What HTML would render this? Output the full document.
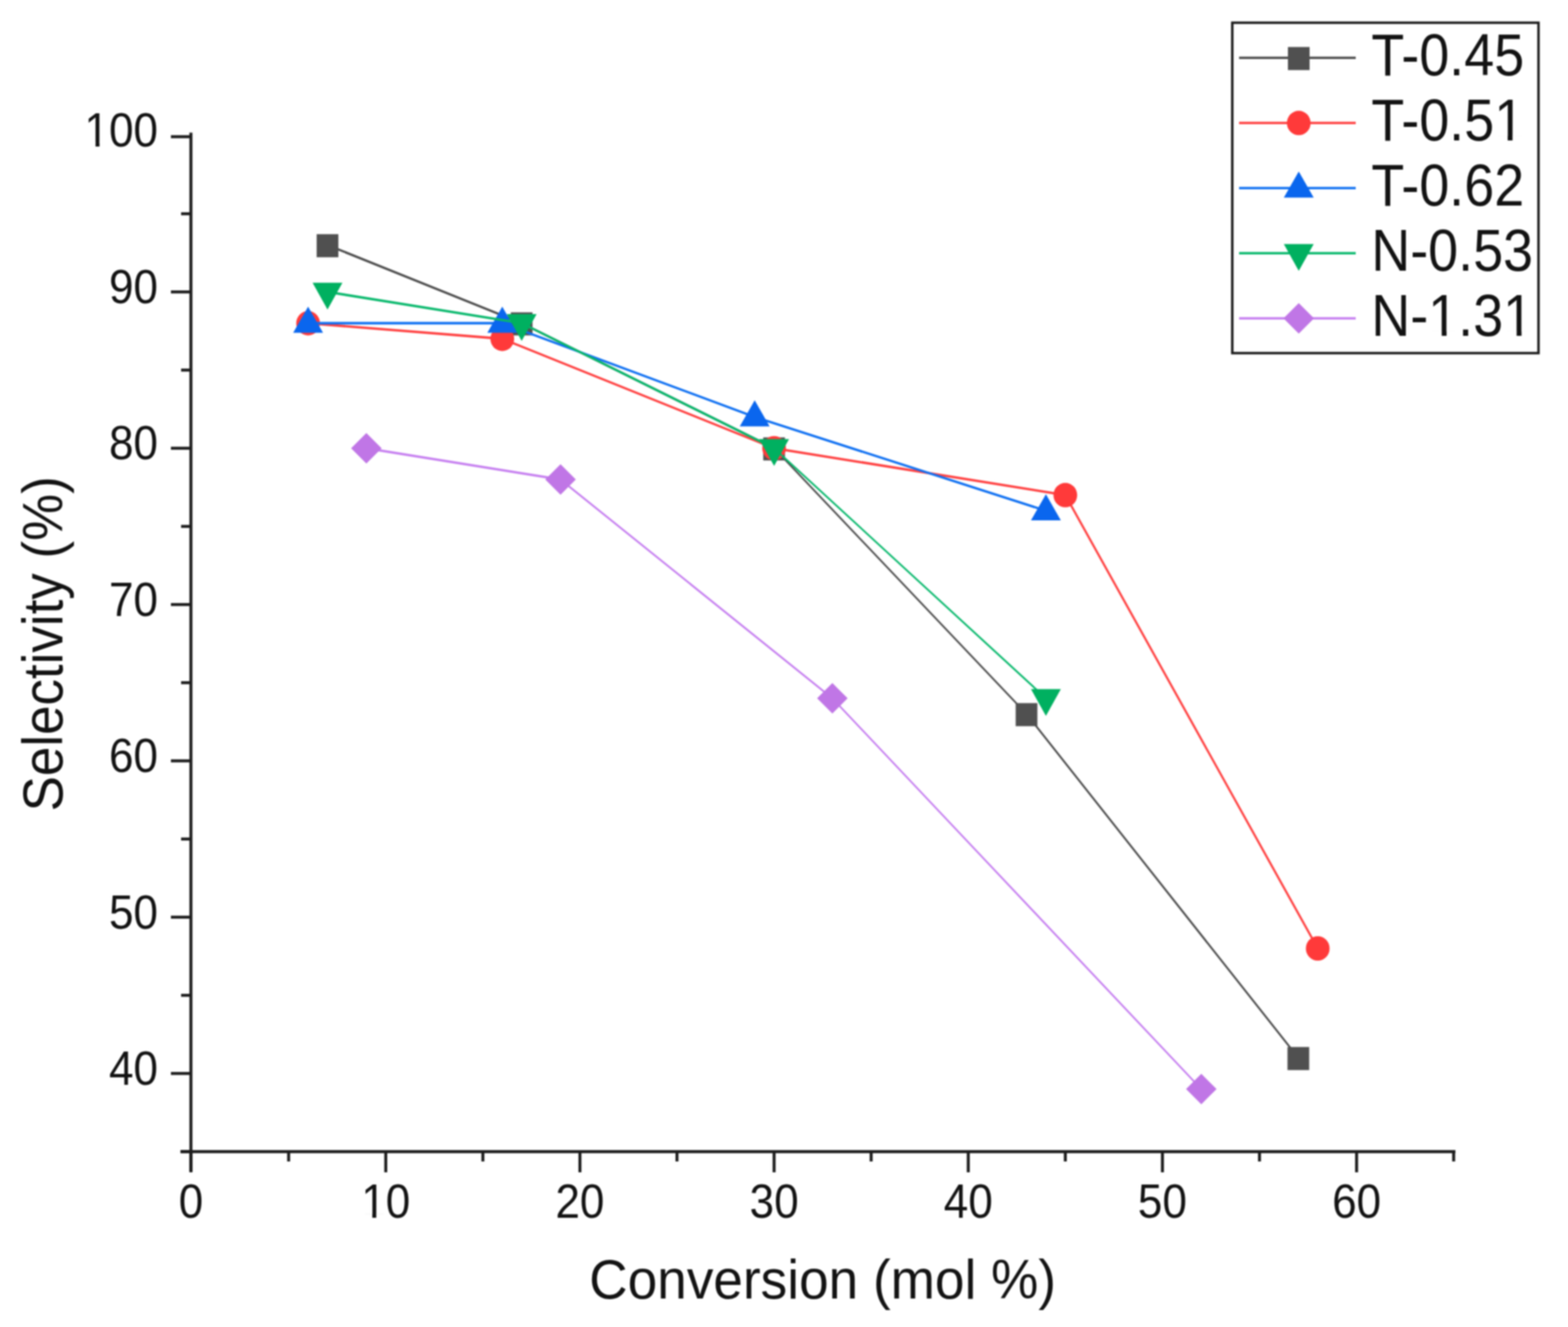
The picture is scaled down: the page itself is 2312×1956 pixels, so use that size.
<!DOCTYPE html>
<html><head><meta charset="utf-8"><title>Selectivity vs Conversion</title>
<style>html,body{margin:0;padding:0;background:#fff;}body{width:2312px;height:1956px;overflow:hidden;}svg{display:block;filter:blur(0.8px);} text{font-family:'Liberation Sans', Arial, Helvetica, sans-serif;fill:#121212;}</style>
</head><body>
<svg width="2312" height="1956" viewBox="0 0 2312 1956">
<rect width="2312" height="1956" fill="#ffffff"/>
<g stroke="#4c4c4c" stroke-linecap="round"><line x1="482.9" y1="361.2" x2="769.2" y2="476.4" stroke-width="3.34"/><line x1="769.2" y1="476.4" x2="1141.4" y2="660.7" stroke-width="3.23"/><line x1="1141.4" y1="660.7" x2="1513.6" y2="1052.4" stroke-width="2.61"/><line x1="1513.6" y1="1052.4" x2="1914.4" y2="1559.3" stroke-width="2.82"/></g>
<rect x="466.9" y="345.2" width="32" height="34" fill="#505050"/>
<rect x="753.2" y="460.4" width="32" height="34" fill="#505050"/>
<rect x="1125.4" y="644.7" width="32" height="34" fill="#505050"/>
<rect x="1497.6" y="1036.4" width="32" height="34" fill="#505050"/>
<rect x="1898.4" y="1543.3" width="32" height="34" fill="#505050"/>
<g stroke="#ff4040" stroke-linecap="round"><line x1="454.3" y1="476.4" x2="740.6" y2="499.4" stroke-width="3.59"/><line x1="740.6" y1="499.4" x2="1141.4" y2="660.7" stroke-width="3.34"/><line x1="1141.4" y1="660.7" x2="1570.8" y2="729.8" stroke-width="3.55"/><line x1="1570.8" y1="729.8" x2="1943.0" y2="1398.0" stroke-width="3.14"/></g>
<ellipse cx="454.3" cy="476.4" rx="17.5" ry="18" fill="#ff3a3a"/>
<ellipse cx="740.6" cy="499.4" rx="17.5" ry="18" fill="#ff3a3a"/>
<ellipse cx="1141.4" cy="660.7" rx="17.5" ry="18" fill="#ff3a3a"/>
<ellipse cx="1570.8" cy="729.8" rx="17.5" ry="18" fill="#ff3a3a"/>
<ellipse cx="1943.0" cy="1398.0" rx="17.5" ry="18" fill="#ff3a3a"/>
<g stroke="#0f70f2" stroke-linecap="round"><line x1="454.3" y1="476.4" x2="740.6" y2="476.4" stroke-width="3.60"/><line x1="740.6" y1="476.4" x2="1112.8" y2="614.6" stroke-width="3.37"/><line x1="1112.8" y1="614.6" x2="1542.2" y2="752.9" stroke-width="3.43"/></g>
<polygon points="454.3,451.9 476.3,490.4 432.3,490.4" fill="#0a66ee"/>
<polygon points="740.6,451.9 762.6,490.4 718.6,490.4" fill="#0a66ee"/>
<polygon points="1112.8,590.1 1134.8,628.6 1090.8,628.6" fill="#0a66ee"/>
<polygon points="1542.2,728.4 1564.2,766.9 1520.2,766.9" fill="#0a66ee"/>
<g stroke="#08b86c" stroke-linecap="round"><line x1="482.9" y1="430.3" x2="769.2" y2="476.4" stroke-width="3.55"/><line x1="769.2" y1="476.4" x2="1141.4" y2="660.7" stroke-width="3.23"/><line x1="1141.4" y1="660.7" x2="1542.2" y2="1029.3" stroke-width="2.65"/></g>
<polygon points="460.9,416.8 504.9,416.8 482.9,456.3" fill="#00b060"/>
<polygon points="747.2,462.9 791.2,462.9 769.2,502.4" fill="#00b060"/>
<polygon points="1119.4,647.2 1163.4,647.2 1141.4,686.7" fill="#00b060"/>
<polygon points="1520.2,1015.8 1564.2,1015.8 1542.2,1055.3" fill="#00b060"/>
<g stroke="#c67ff0" stroke-linecap="round"><line x1="540.2" y1="660.7" x2="826.5" y2="706.8" stroke-width="3.55"/><line x1="826.5" y1="706.8" x2="1227.3" y2="1029.3" stroke-width="2.80"/><line x1="1227.3" y1="1029.3" x2="1771.3" y2="1605.3" stroke-width="2.62"/></g>
<polygon points="540.2,638.2 562.7,660.7 540.2,683.2 517.7,660.7" fill="#c076e6"/>
<polygon points="826.5,684.3 849.0,706.8 826.5,729.3 804.0,706.8" fill="#c076e6"/>
<polygon points="1227.3,1006.8 1249.8,1029.3 1227.3,1051.8 1204.8,1029.3" fill="#c076e6"/>
<polygon points="1771.3,1582.8 1793.8,1605.3 1771.3,1627.8 1748.8,1605.3" fill="#c076e6"/>
<g stroke="#1c1c1c" stroke-width="4.4" stroke-linecap="butt"><line x1="281.5" y1="195.5" x2="281.5" y2="1727" /><line x1="266" y1="1697.5" x2="2146" y2="1697.5" /><line x1="267" y1="1697.5" x2="281.5" y2="1697.5" /><line x1="252" y1="1582.3" x2="281.5" y2="1582.3" /><line x1="267" y1="1467.1" x2="281.5" y2="1467.1" /><line x1="252" y1="1351.9" x2="281.5" y2="1351.9" /><line x1="267" y1="1236.7" x2="281.5" y2="1236.7" /><line x1="252" y1="1121.5" x2="281.5" y2="1121.5" /><line x1="267" y1="1006.3" x2="281.5" y2="1006.3" /><line x1="252" y1="891.1" x2="281.5" y2="891.1" /><line x1="267" y1="775.9" x2="281.5" y2="775.9" /><line x1="252" y1="660.7" x2="281.5" y2="660.7" /><line x1="267" y1="545.5" x2="281.5" y2="545.5" /><line x1="252" y1="430.3" x2="281.5" y2="430.3" /><line x1="267" y1="315.1" x2="281.5" y2="315.1" /><line x1="252" y1="201.5" x2="281.5" y2="201.5" /><line x1="281.5" y1="1697.5" x2="281.5" y2="1728" /><line x1="425.6" y1="1697.5" x2="425.6" y2="1712" /><line x1="568.8" y1="1697.5" x2="568.8" y2="1728" /><line x1="712.0" y1="1697.5" x2="712.0" y2="1712" /><line x1="855.1" y1="1697.5" x2="855.1" y2="1728" /><line x1="998.2" y1="1697.5" x2="998.2" y2="1712" /><line x1="1141.4" y1="1697.5" x2="1141.4" y2="1728" /><line x1="1284.5" y1="1697.5" x2="1284.5" y2="1712" /><line x1="1427.7" y1="1697.5" x2="1427.7" y2="1728" /><line x1="1570.8" y1="1697.5" x2="1570.8" y2="1712" /><line x1="1714.0" y1="1697.5" x2="1714.0" y2="1728" /><line x1="1857.1" y1="1697.5" x2="1857.1" y2="1712" /><line x1="2000.3" y1="1697.5" x2="2000.3" y2="1728" /><line x1="2143.4" y1="1697.5" x2="2143.4" y2="1712" /></g>
<g transform="translate(0,1599.0) scale(1,1.08)"><text id="t1" x="233.0" y="0" text-anchor="end" font-size="65">40</text></g><g transform="translate(0,1368.5) scale(1,1.08)"><text id="t2" x="233.0" y="0" text-anchor="end" font-size="65">50</text></g><g transform="translate(0,1138.0) scale(1,1.08)"><text id="t3" x="233.0" y="0" text-anchor="end" font-size="65">60</text></g><g transform="translate(0,907.5) scale(1,1.08)"><text id="t4" x="233.0" y="0" text-anchor="end" font-size="65">70</text></g><g transform="translate(0,677.3) scale(1,1.08)"><text id="t5" x="233.0" y="0" text-anchor="end" font-size="65">80</text></g><g transform="translate(0,446.8) scale(1,1.08)"><text id="t6" x="233.0" y="0" text-anchor="end" font-size="65">90</text></g><g transform="translate(0,215.5) scale(1,1.08)"><text id="t7" x="233.0" y="0" text-anchor="end" font-size="65">100</text><rect x="128.70" y="-5.40" width="12.16" height="6.51" fill="#ffffff"/><rect x="146.73" y="-5.40" width="11.49" height="6.51" fill="#ffffff"/></g><g transform="translate(0,1795.0) scale(1,1.08)"><text id="t8" x="281.5" y="0" text-anchor="middle" font-size="65">0</text></g><g transform="translate(0,1795.0) scale(1,1.08)"><text id="t9" x="568.8" y="0" text-anchor="middle" font-size="65">10</text><rect x="536.78" y="-5.40" width="12.16" height="6.51" fill="#ffffff"/><rect x="554.81" y="-5.40" width="11.49" height="6.51" fill="#ffffff"/></g><g transform="translate(0,1795.0) scale(1,1.08)"><text id="t10" x="855.1" y="0" text-anchor="middle" font-size="65">20</text></g><g transform="translate(0,1795.0) scale(1,1.08)"><text id="t11" x="1141.4" y="0" text-anchor="middle" font-size="65">30</text></g><g transform="translate(0,1795.0) scale(1,1.08)"><text id="t12" x="1427.7" y="0" text-anchor="middle" font-size="65">40</text></g><g transform="translate(0,1795.0) scale(1,1.08)"><text id="t13" x="1714.0" y="0" text-anchor="middle" font-size="65">50</text></g><g transform="translate(0,1795.0) scale(1,1.08)"><text id="t14" x="2000.3" y="0" text-anchor="middle" font-size="65">60</text></g>
<text x="1213" y="1914.5" text-anchor="middle" font-size="78.4" transform="translate(0,1914.5) scale(1,1.03) translate(0,-1914.5)">Conversion (mol %)</text>
<text x="0" y="0" text-anchor="middle" font-size="78" transform="translate(92,949) rotate(-90) scale(1,1.08)">Selectivity (%)</text>
<rect x="1817" y="33.5" width="451.5" height="487" fill="#ffffff" stroke="#1a1a1a" stroke-width="3.6"/>
<line x1="1827" y1="85.3" x2="1999" y2="85.3" stroke="#4c4c4c" stroke-width="3.4"/>
<rect x="1899.0" y="69.3" width="32" height="34" fill="#505050"/>
<g transform="translate(0,111.2) scale(1,1.085)"><text id="t15" x="2022.0" y="0" text-anchor="start" font-size="79.5">T-0.45</text></g>
<line x1="1827" y1="181.3" x2="1999" y2="181.3" stroke="#ff4040" stroke-width="3.4"/>
<ellipse cx="1915.0" cy="181.3" rx="17.5" ry="18" fill="#ff3a3a"/>
<g transform="translate(0,207.2) scale(1,1.085)"><text id="t16" x="2022.0" y="0" text-anchor="start" font-size="79.5">T-0.51</text><rect x="2208.18" y="-6.60" width="14.87" height="7.96" fill="#ffffff"/><rect x="2230.22" y="-6.60" width="14.05" height="7.96" fill="#ffffff"/></g>
<line x1="1827" y1="277.3" x2="1999" y2="277.3" stroke="#0f70f2" stroke-width="3.4"/>
<polygon points="1915.0,252.8 1937.0,291.3 1893.0,291.3" fill="#0a66ee"/>
<g transform="translate(0,303.2) scale(1,1.085)"><text id="t17" x="2022.0" y="0" text-anchor="start" font-size="79.5">T-0.62</text></g>
<line x1="1827" y1="373.3" x2="1999" y2="373.3" stroke="#08b86c" stroke-width="3.4"/>
<polygon points="1893.0,359.8 1937.0,359.8 1915.0,399.3" fill="#00b060"/>
<g transform="translate(0,399.2) scale(1,1.085)"><text id="t18" x="2022.0" y="0" text-anchor="start" font-size="79.5">N-0.53</text></g>
<line x1="1827" y1="469.3" x2="1999" y2="469.3" stroke="#c67ff0" stroke-width="3.4"/>
<polygon points="1915.0,446.8 1937.5,469.3 1915.0,491.8 1892.5,469.3" fill="#c076e6"/>
<g transform="translate(0,495.2) scale(1,1.085)"><text id="t19" x="2022.0" y="0" text-anchor="start" font-size="79.5">N-1.31</text><rect x="2110.91" y="-6.60" width="14.87" height="7.96" fill="#ffffff"/><rect x="2132.96" y="-6.60" width="14.05" height="7.96" fill="#ffffff"/><rect x="2221.41" y="-6.60" width="14.87" height="7.96" fill="#ffffff"/><rect x="2243.46" y="-6.60" width="14.05" height="7.96" fill="#ffffff"/></g>
</svg></body></html>
